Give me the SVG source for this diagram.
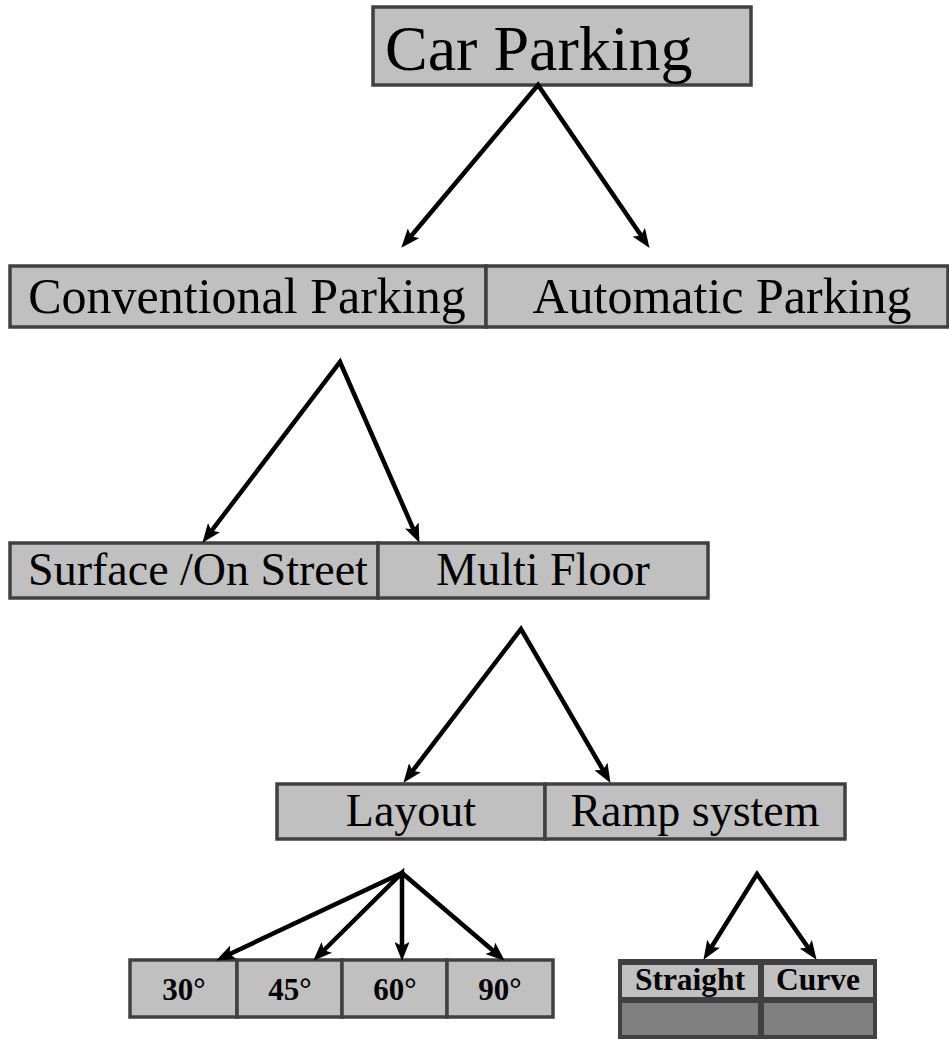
<svg xmlns="http://www.w3.org/2000/svg" width="949" height="1041" viewBox="0 0 949 1041">
<style>
.box{fill:#c0c0c0;stroke:#404040;stroke-width:3.5}
.t{font-family:"Liberation Serif","Times New Roman",serif;fill:#000}
.b{font-family:"Liberation Serif","Times New Roman",serif;font-weight:bold;fill:#000}
.c{fill:none;stroke:#000;stroke-width:4.5;stroke-linejoin:miter;stroke-miterlimit:20}
</style>
<defs>
<marker id="ah" markerUnits="userSpaceOnUse" markerWidth="19" markerHeight="15" refX="8" refY="7.5" orient="auto-start-reverse" viewBox="0 0 19 15">
<path d="M0,0 L19,7.5 L0,15 L4,7.5 z" fill="#000"/>
</marker>
</defs>
<rect width="949" height="1041" fill="#fff"/>
<g id="car-parking">
<rect class="box" x="373" y="7" width="378" height="78"/>
<text class="t" x="385" y="70" font-size="64">Car Parking</text>
</g>
<g id="conventional-parking">
<rect class="box" x="10" y="266" width="476" height="61"/>
<text class="t" x="247" y="313" font-size="50" text-anchor="middle">Conventional Parking</text>
</g>
<g id="automatic-parking">
<rect class="box" x="486" y="266" width="462" height="61"/>
<text class="t" x="722" y="313" font-size="50" text-anchor="middle">Automatic Parking</text>
</g>
<g id="surface-on-street">
<rect class="box" x="10" y="543" width="368" height="55"/>
<text class="t" x="198" y="585" font-size="46" text-anchor="middle">Surface /On Street</text>
</g>
<g id="multi-floor">
<rect class="box" x="378" y="543" width="330" height="55"/>
<text class="t" x="543" y="585" font-size="46" text-anchor="middle">Multi Floor</text>
</g>
<g id="layout">
<rect class="box" x="277" y="784" width="268" height="55"/>
<text class="t" x="411" y="826" font-size="46" text-anchor="middle">Layout</text>
</g>
<g id="ramp-system">
<rect class="box" x="545" y="784" width="300" height="55"/>
<text class="t" x="695" y="826" font-size="46" text-anchor="middle">Ramp system</text>
</g>
<g id="deg30">
<rect class="box" x="130" y="960" width="107" height="57"/>
<text class="b" x="184" y="1000" font-size="31" text-anchor="middle">30°</text>
</g>
<g id="deg45">
<rect class="box" x="237" y="960" width="105" height="57"/>
<text class="b" x="290" y="1000" font-size="31" text-anchor="middle">45°</text>
</g>
<g id="deg60">
<rect class="box" x="342" y="960" width="105" height="57"/>
<text class="b" x="395" y="1000" font-size="31" text-anchor="middle">60°</text>
</g>
<g id="deg90">
<rect class="box" x="447" y="960" width="106" height="57"/>
<text class="b" x="500" y="1000" font-size="31" text-anchor="middle">90°</text>
</g>
<g id="ramp-table">
<rect x="618" y="959" width="259" height="80" fill="#404040"/>
</g>
<g id="straight">
<rect x="622" y="965" width="136" height="32" fill="#c0c0c0"/>
<rect x="622" y="1003" width="136" height="32" fill="#808080"/>
<text class="b" x="690" y="990" font-size="31.5" text-anchor="middle">Straight</text>
</g>
<g id="curve">
<rect x="764" y="965" width="109" height="32" fill="#c0c0c0"/>
<rect x="764" y="1003" width="109" height="32" fill="#808080"/>
<text class="b" x="818" y="990" font-size="31.5" text-anchor="middle">Curve</text>
</g>
<g id="connectors">
<path class="c" d="M408.4,239.3 L538,85 L643.3,238.8" marker-start="url(#ah)" marker-end="url(#ah)"/>
<path class="c" d="M209.1,534 L340,362 L415,532.8" marker-start="url(#ah)" marker-end="url(#ah)"/>
<path class="c" d="M410.1,774.1 L521,629 L605,773.4" marker-start="url(#ah)" marker-end="url(#ah)"/>
<path class="c" d="M226.1,955.7 L402,873 L496.4,953.5" marker-start="url(#ah)" marker-end="url(#ah)"/>
<path class="c" d="M321.1,953 L402,873 L402,950" marker-start="url(#ah)" marker-end="url(#ah)"/>
<path class="c" d="M709.3,950.5 L757,874 L810.3,950.8" marker-start="url(#ah)" marker-end="url(#ah)"/>
</g>
</svg>
